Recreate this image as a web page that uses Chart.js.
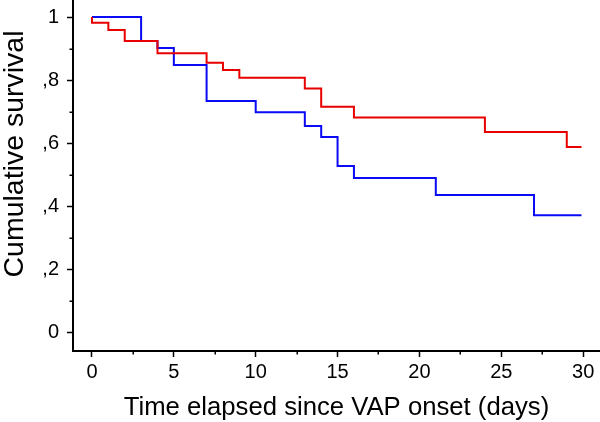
<!DOCTYPE html>
<html>
<head>
<meta charset="utf-8">
<script src="https://cdn.jsdelivr.net/npm/chart.js"></script>
<style>
html, body { margin: 0; padding: 0; background: #fff; }
</style>
</head>
<body>
<canvas id="km" width="600" height="422"></canvas>
<script>
// Kaplan-Meier steps (day of event, survival after it)
var blueDays = [0, 3, 4, 5, 7, 10, 13, 14, 15, 16, 21, 27, 29.9];
var blueSurv = [1, 0.924, 0.902, 0.848, 0.733, 0.698, 0.654, 0.619, 0.527, 0.489, 0.435, 0.371, 0.371];
var redDays = [0, 0, 1, 2, 4, 7, 8, 9, 13, 14, 16, 24, 29, 29.9];
var redSurv = [1, 0.982, 0.959, 0.924, 0.885, 0.855, 0.832, 0.807, 0.773, 0.715, 0.681, 0.635, 0.587, 0.587];

var xTicks = [0, 5, 10, 15, 20, 25, 30];
var xMinor = [2.5, 7.5, 12.5, 17.5, 22.5, 27.5];
var yTicks = [0, 0.2, 0.4, 0.6, 0.8, 1];
var yTickLabels = ['0', ',2', ',4', ',6', ',8', '1'];
var yMinor = [0.1, 0.3, 0.5, 0.7, 0.9];

var xTitle = 'Time elapsed since VAP onset (days)';
var yTitle = 'Cumulative survival';

var fontFam = '"Liberation Sans", Arial, Helvetica, sans-serif';

function toPoints(xs, ys) {
    return xs.map(function (x, i) { return { x: x, y: ys[i] }; });
}

// minor ticks + rotated y title
var extras = {
    id: 'extras',
    afterDraw: function (chart) {
        var ctx = chart.ctx;
        var xs = chart.scales.x, ys = chart.scales.y;
        ctx.save();
        ctx.strokeStyle = '#000';
        ctx.lineWidth = 1.5;
        ctx.beginPath();
        xMinor.forEach(function (v) {
            var px = Math.round(xs.getPixelForValue(v)) + 0.25;
            ctx.moveTo(px, xs.top);
            ctx.lineTo(px, xs.top + 3.5);
        });
        yMinor.forEach(function (v) {
            var py = Math.round(ys.getPixelForValue(v)) + 0.25;
            ctx.moveTo(ys.right, py);
            ctx.lineTo(ys.right - 3.5, py);
        });
        ctx.stroke();

        ctx.fillStyle = '#000';
        ctx.font = '28.5px ' + fontFam;
        ctx.textAlign = 'center';
        ctx.textBaseline = 'alphabetic';
        ctx.translate(23, 154);
        ctx.rotate(-Math.PI / 2);
        ctx.fillText(yTitle, 0, 0);
        ctx.restore();
    }
};

var ctx = document.getElementById('km').getContext('2d');

var myChart = new Chart(ctx, {
    type: 'line',
    data: {
        datasets: [{
            data: toPoints(redDays, redSurv),
            borderColor: 'rgb(232,0,0)',
            borderWidth: 2,
            stepped: 'before',
            pointRadius: 0,
            fill: false
        }, {
            data: toPoints(blueDays, blueSurv),
            borderColor: 'rgb(10,10,245)',
            borderWidth: 2,
            stepped: 'before',
            pointRadius: 0,
            fill: false
        }]
    },
    options: {
        responsive: false,
        animation: false,
        layout: { padding: 0 },
        plugins: { legend: { display: false }, tooltip: { enabled: false } },
        scales: {
            x: {
                type: 'linear',
                min: -1.16,
                max: 31.03,
                afterBuildTicks: function (s) {
                    s.ticks = xTicks.map(function (v) { return { value: v }; });
                },
                afterFit: function (s) {
                    s.height = 71;
                    s.paddingLeft = 0;
                    s.paddingRight = 0;
                },
                ticks: {
                    autoSkip: false,
                    maxRotation: 0,
                    padding: 3,
                    color: '#000',
                    font: { family: fontFam, size: 20 },
                    callback: function (v) { return String(v); }
                },
                grid: {
                    drawOnChartArea: false,
                    drawTicks: true,
                    tickLength: 6,
                    tickWidth: 1.5,
                    tickColor: '#000'
                },
                border: { display: true, color: '#000', width: 2 },
                title: {
                    display: true,
                    text: xTitle,
                    color: '#000',
                    padding: 0,
                    font: { family: fontFam, size: 25.7, lineHeight: 1.1 }
                }
            },
            y: {
                type: 'linear',
                min: -0.0603,
                max: 1.054,
                afterBuildTicks: function (s) {
                    s.ticks = yTicks.map(function (v) { return { value: v }; });
                },
                afterFit: function (s) {
                    s.width = 73;
                    s.paddingTop = 0;
                    s.paddingBottom = 0;
                },
                ticks: {
                    autoSkip: false,
                    padding: 8,
                    color: '#000',
                    font: { family: fontFam, size: 20 },
                    callback: function (v, i) { return yTickLabels[i]; }
                },
                grid: {
                    drawOnChartArea: false,
                    drawTicks: true,
                    tickLength: 6,
                    tickWidth: 1.5,
                    tickColor: '#000'
                },
                border: { display: true, color: '#000', width: 2 }
            }
        }
    },
    plugins: [extras]
});
</script>
</body>
</html>
